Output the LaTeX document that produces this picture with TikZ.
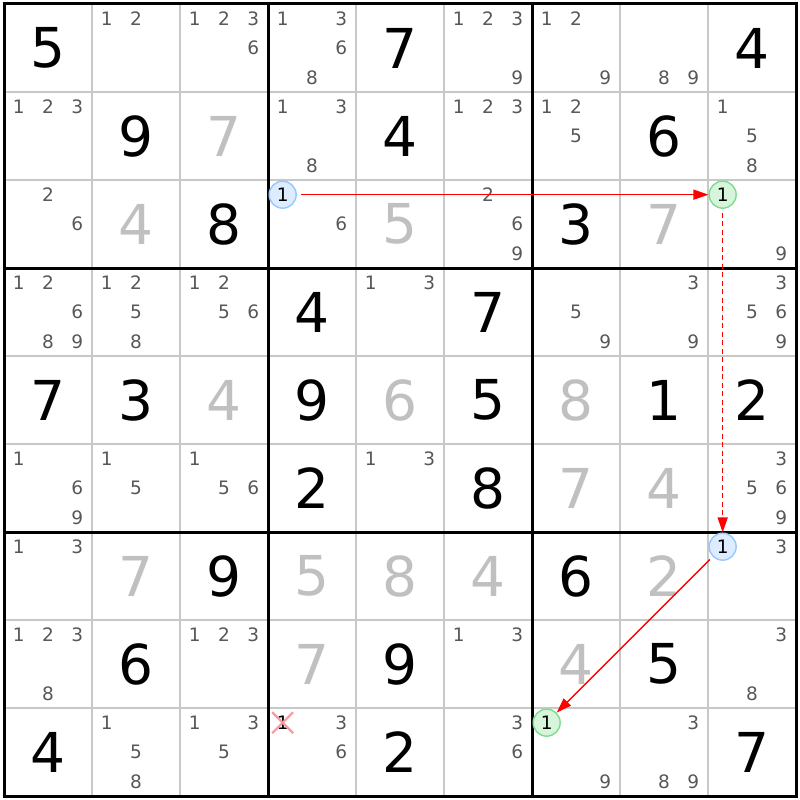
\documentclass[tikz,border=0pt]{standalone}
\usepackage{fontspec}
\setmainfont{DejaVu Sans}
\usetikzlibrary{arrows.meta}
\definecolor{thinline}{RGB}{200,200,200}
\definecolor{placed}{RGB}{192,192,192}
\definecolor{candc}{RGB}{88,88,88}
\definecolor{bluefill}{RGB}{221,236,255}
\definecolor{blueline}{RGB}{150,200,255}
\definecolor{greenfill}{RGB}{214,245,218}
\definecolor{greenline}{RGB}{125,220,145}
\definecolor{crossc}{RGB}{255,150,160}
\definecolor{arrowc}{RGB}{255,0,0}
\tikzset{
  given/.style={font=\fontsize{55}{55}\selectfont, text=black, inner sep=0pt},
  placedv/.style={given, text=placed},
  cand/.style={font=\fontsize{18.5}{18.5}\selectfont, text=candc, inner sep=0pt},
  hlbase/.style={circle, minimum size=27pt, inner sep=0pt, line width=1.4pt, font=\fontsize{18.5}{18.5}\selectfont, text=black},
  hlblue/.style={hlbase, draw=blueline, fill=bluefill},
  hlgreen/.style={hlbase, draw=greenline, fill=greenfill},
  link/.style={draw=arrowc, line width=1.3pt, -{Triangle[length=15pt,width=10pt]}},
  thingrid/.style={draw=thinline, line width=1.2pt},
  thickgrid/.style={draw=black, line width=3pt},
  crossline/.style={draw=crossc, line width=2.2pt},
}
\newcommand\Gv[3]{\node[given] (v#1#2) at ({48+88*#2},{48+88*#1}) {#3};}
\newcommand\Pv[3]{\node[placedv] (v#1#2) at ({48+88*#2},{48+88*#1}) {#3};}
\newcommand\Cd[3]{\foreach \k in {#3}{%
  \pgfmathsetmacro\ci{mod(\k-1,3)}%
  \pgfmathsetmacro\cj{div(\k-1,3)}%
  \node[cand] (c#1#2\k) at ({4+88*#2+88/3*(\ci+0.5)},{4+88*#1+88/3*(\cj+0.5)}) {\k};}}
\begin{document}
\begin{tikzpicture}[x=1pt,y=-1pt]
\useasboundingbox (0,0) rectangle (800,800);
\fill[white] (0,0) rectangle (800,800);
% thin grid
\foreach \i in {1,2,4,5,7,8}{
  \draw[thingrid] ({4+88*\i},4) -- ({4+88*\i},796);
  \draw[thingrid] (4,{4+88*\i}) -- (796,{4+88*\i});
}
% thick grid
\foreach \i in {0,3,6,9}{
  \draw[thickgrid] ({4+88*\i},2.5) -- ({4+88*\i},797.5);
  \draw[thickgrid] (2.5,{4+88*\i}) -- (797.5,{4+88*\i});
}
% row 0
\Gv{0}{0}{5} \Cd{0}{1}{1,2} \Cd{0}{2}{1,2,3,6} \Cd{0}{3}{1,3,6,8} \Gv{0}{4}{7}
\Cd{0}{5}{1,2,3,9} \Cd{0}{6}{1,2,9} \Cd{0}{7}{8,9} \Gv{0}{8}{4}
% row 1
\Cd{1}{0}{1,2,3} \Gv{1}{1}{9} \Pv{1}{2}{7} \Cd{1}{3}{1,3,8} \Gv{1}{4}{4}
\Cd{1}{5}{1,2,3} \Cd{1}{6}{1,2,5} \Gv{1}{7}{6} \Cd{1}{8}{1,5,8}
% row 2
\Cd{2}{0}{2,6} \Pv{2}{1}{4} \Gv{2}{2}{8} \Cd{2}{3}{6} \Pv{2}{4}{5}
\Cd{2}{5}{2,6,9} \Gv{2}{6}{3} \Pv{2}{7}{7} \Cd{2}{8}{9}
% row 3
\Cd{3}{0}{1,2,6,8,9} \Cd{3}{1}{1,2,5,8} \Cd{3}{2}{1,2,5,6} \Gv{3}{3}{4} \Cd{3}{4}{1,3}
\Gv{3}{5}{7} \Cd{3}{6}{5,9} \Cd{3}{7}{3,9} \Cd{3}{8}{3,5,6,9}
% row 4
\Gv{4}{0}{7} \Gv{4}{1}{3} \Pv{4}{2}{4} \Gv{4}{3}{9} \Pv{4}{4}{6}
\Gv{4}{5}{5} \Pv{4}{6}{8} \Gv{4}{7}{1} \Gv{4}{8}{2}
% row 5
\Cd{5}{0}{1,6,9} \Cd{5}{1}{1,5} \Cd{5}{2}{1,5,6} \Gv{5}{3}{2} \Cd{5}{4}{1,3}
\Gv{5}{5}{8} \Pv{5}{6}{7} \Pv{5}{7}{4} \Cd{5}{8}{3,5,6,9}
% row 6
\Cd{6}{0}{1,3} \Pv{6}{1}{7} \Gv{6}{2}{9} \Pv{6}{3}{5} \Pv{6}{4}{8}
\Pv{6}{5}{4} \Gv{6}{6}{6} \Pv{6}{7}{2} \Cd{6}{8}{3}
% row 7
\Cd{7}{0}{1,2,3,8} \Gv{7}{1}{6} \Cd{7}{2}{1,2,3} \Pv{7}{3}{7} \Gv{7}{4}{9}
\Cd{7}{5}{1,3} \Pv{7}{6}{4} \Gv{7}{7}{5} \Cd{7}{8}{3,8}
% row 8
\Gv{8}{0}{4} \Cd{8}{1}{1,5,8} \Cd{8}{2}{1,3,5} \Cd{8}{3}{3,6} \Gv{8}{4}{2}
\Cd{8}{5}{3,6} \Cd{8}{6}{9} \Cd{8}{7}{3,8,9} \Gv{8}{8}{7}
% eliminated candidate
\node[cand, text=black] (x831) at ({4+264+88/6},{4+704+88/6}) {1};
\draw[crossline] ([shift={(-10.5,-10.5)}]x831.center) -- ([shift={(10.5,10.5)}]x831.center);
\draw[crossline] ([shift={(-10.5,10.5)}]x831.center) -- ([shift={(10.5,-10.5)}]x831.center);
% chain nodes
\node[hlblue] (A) at ({4+264+88/6},{4+176+88/6}) {1};
\node[hlgreen] (B) at ({4+704+88/6},{4+176+88/6}) {1};
\node[hlblue] (C) at ({4+704+88/6},{4+528+88/6}) {1};
\node[hlgreen] (D) at ({4+528+88/6},{4+704+88/6}) {1};
% links
\draw[link, shorten <=4pt] (A) -- (B);
\draw[link, dash pattern=on 5pt off 3.5pt, shorten <=4pt] (B) -- (C);
\draw[link, shorten <=4pt] (C) -- (D);
\end{tikzpicture}
\end{document}
